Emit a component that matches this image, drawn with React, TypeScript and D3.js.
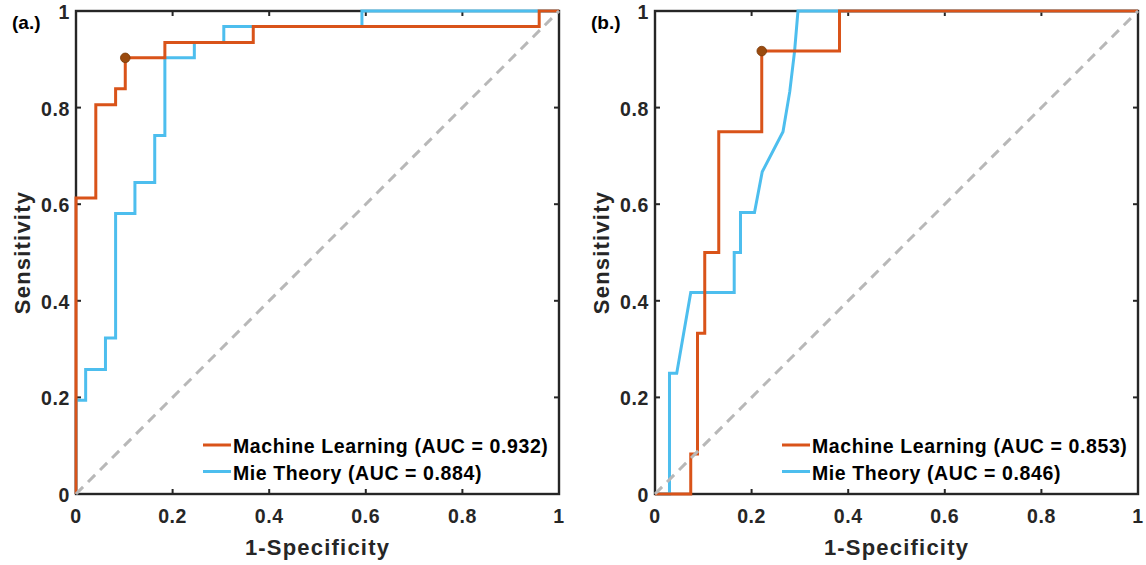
import React from 'react';
import * as d3 from 'd3';

// ---------- data ----------
const tickValues = [0, 0.2, 0.4, 0.6, 0.8, 1];
const tickLabels = ['0', '0.2', '0.4', '0.6', '0.8', '1'];
const seriesNames = ['Machine Learning', 'Mie Theory'];
const panelTitles = ['(a.)', '(b.)'];
const aucA = ['0.932', '0.884'];
const aucB = ['0.853', '0.846'];

// Panel (a.) Machine Learning ROC vertices
const mlA_fpr = [0, 0, 0.041, 0.041, 0.082, 0.082, 0.102, 0.102, 0.184, 0.184, 0.367, 0.367, 0.959, 0.959, 1];
const mlA_tpr = [0, 0.613, 0.613, 0.806, 0.806, 0.839, 0.839, 0.903, 0.903, 0.935, 0.935, 0.968, 0.968, 1, 1];
// Panel (a.) Mie Theory ROC vertices
const mieA_fpr = [0, 0, 0.02, 0.02, 0.061, 0.061, 0.082, 0.082, 0.122, 0.122, 0.163, 0.163, 0.184, 0.184, 0.245, 0.245, 0.306, 0.306, 0.592, 0.592, 1];
const mieA_tpr = [0, 0.194, 0.194, 0.258, 0.258, 0.323, 0.323, 0.581, 0.581, 0.645, 0.645, 0.742, 0.742, 0.903, 0.903, 0.935, 0.935, 0.968, 0.968, 1, 1];
// Panel (b.) Machine Learning ROC vertices
const mlB_fpr = [0, 0.074, 0.074, 0.088, 0.088, 0.103, 0.103, 0.132, 0.132, 0.221, 0.221, 0.382, 0.382, 1];
const mlB_tpr = [0, 0, 0.083, 0.083, 0.333, 0.333, 0.5, 0.5, 0.75, 0.75, 0.917, 0.917, 1, 1];
// Panel (b.) Mie Theory ROC vertices
const mieB_fpr = [0, 0.03, 0.03, 0.045, 0.074, 0.164, 0.164, 0.177, 0.177, 0.206, 0.222, 0.265, 0.279, 0.289, 0.296, 1];
const mieB_tpr = [0, 0, 0.25, 0.25, 0.417, 0.417, 0.5, 0.5, 0.583, 0.583, 0.667, 0.75, 0.833, 0.917, 1, 1];
// Optimal operating points
const optA = [0.102, 0.903];
const optB = [0.221, 0.917];

// ---------- styles ----------
const ORANGE = '#D95319';
const BLUE = '#4DBEEE';
const AXIS = '#262626';
const DOT = '#9a4a0e';
const FONT = '"Liberation Sans", Arial, Helvetica, sans-serif';

type PanelProps = {
  left: number;
  title: string;
  ml: [number[], number[]];
  mie: [number[], number[]];
  opt: number[];
  auc: string[];
};

const TOP = 11;
const BOTTOM = 494;
const SIZE = 483;
const LW = 3;

function Panel({ left, title, ml, mie, opt, auc }: PanelProps) {
  const x = d3.scaleLinear().domain([0, 1]).range([left, left + SIZE]);
  const y = d3.scaleLinear().domain([0, 1]).range([BOTTOM, TOP]);
  const line = d3
    .line<[number, number]>()
    .x((d) => x(d[0]))
    .y((d) => y(d[1]));
  const pts = (a: number[], b: number[]) => a.map((v, i) => [v, b[i]] as [number, number]);
  const tickLen = 5;
  const legendX = left + 127;
  return (
    <g>
      {/* axes box */}
      <rect x={x(0)} y={y(1)} width={x(1) - x(0)} height={y(0) - y(1)} fill="none" stroke={AXIS} strokeWidth={2.4} />
      {tickValues.map((t, i) => (
        <g key={'t' + i}>
          <line x1={x(t)} x2={x(t)} y1={y(0)} y2={y(0) - tickLen} stroke={AXIS} strokeWidth={2} />
          <line x1={x(t)} x2={x(t)} y1={y(1)} y2={y(1) + tickLen} stroke={AXIS} strokeWidth={2} />
          <line x1={x(0)} x2={x(0) + tickLen} y1={y(t)} y2={y(t)} stroke={AXIS} strokeWidth={2} />
          <line x1={x(1)} x2={x(1) - tickLen} y1={y(t)} y2={y(t)} stroke={AXIS} strokeWidth={2} />
          <text x={x(t)} y={523} textAnchor="middle" fontSize={19.5} fontWeight="bold" letterSpacing={0.6} fill={AXIS} fontFamily={FONT}>
            {tickLabels[i]}
          </text>
          <text x={x(0) - 6} y={y(t) + 8} textAnchor="end" fontSize={19.5} fontWeight="bold" letterSpacing={0.6} fill={AXIS} fontFamily={FONT}>
            {tickLabels[i]}
          </text>
        </g>
      ))}
      {/* curves */}
      <path d={line(pts(mie[0], mie[1])) || ''} fill="none" stroke={BLUE} strokeWidth={LW} strokeLinejoin="miter" />
      <path d={line(pts(ml[0], ml[1])) || ''} fill="none" stroke={ORANGE} strokeWidth={LW} strokeLinejoin="miter" />
      {/* chance diagonal */}
      <line x1={x(0)} y1={y(0)} x2={x(1)} y2={y(1)} stroke="#b8b8b8" strokeWidth={LW} strokeDasharray="10 7" />
      <circle cx={x(opt[0])} cy={y(opt[1])} r={4.8} fill={DOT} stroke="#7a3a08" strokeWidth={0.8} />
      {/* labels */}
      <text x={(x(0) + x(1)) / 2} y={555} textAnchor="middle" fontSize={22} fontWeight="bold" letterSpacing={1.2} fill={AXIS} fontFamily={FONT}>
        1-Specificity
      </text>
      <text
        transform={`translate(${left - 46},${(TOP + BOTTOM) / 2}) rotate(-90)`}
        textAnchor="middle"
        fontSize={22}
        fontWeight="bold"
        letterSpacing={1.2}
        fill={AXIS}
        fontFamily={FONT}
      >
        Sensitivity
      </text>
      <text x={left - 64} y={29} fontSize={19} fontWeight="bold" fill="#000" fontFamily={FONT}>
        {title}
      </text>
      {/* legend */}
      <line x1={legendX} x2={legendX + 28} y1={445} y2={445} stroke={ORANGE} strokeWidth={LW} />
      <text x={legendX + 30} y={453} fontSize={19.5} fontWeight="bold" letterSpacing={0.6} fill="#000" fontFamily={FONT}>
        {`${seriesNames[0]} (AUC = ${auc[0]})`}
      </text>
      <line x1={legendX} x2={legendX + 28} y1={471.5} y2={471.5} stroke={BLUE} strokeWidth={LW} />
      <text x={legendX + 30} y={480} fontSize={19.5} fontWeight="bold" letterSpacing={0.6} fill="#000" fontFamily={FONT}>
        {`${seriesNames[1]} (AUC = ${auc[1]})`}
      </text>
    </g>
  );
}

export default function App() {
  return (
    <svg
      width={1146}
      height={565}
      style={{ position: 'absolute', left: 0, top: 0, background: '#fff' }}
    >
      <rect x={0} y={0} width={1146} height={565} fill="#fff" />
      <Panel left={76} title={panelTitles[0]} ml={[mlA_fpr, mlA_tpr]} mie={[mieA_fpr, mieA_tpr]} opt={optA} auc={aucA} />
      <Panel left={655} title={panelTitles[1]} ml={[mlB_fpr, mlB_tpr]} mie={[mieB_fpr, mieB_tpr]} opt={optB} auc={aucB} />
    </svg>
  );
}
